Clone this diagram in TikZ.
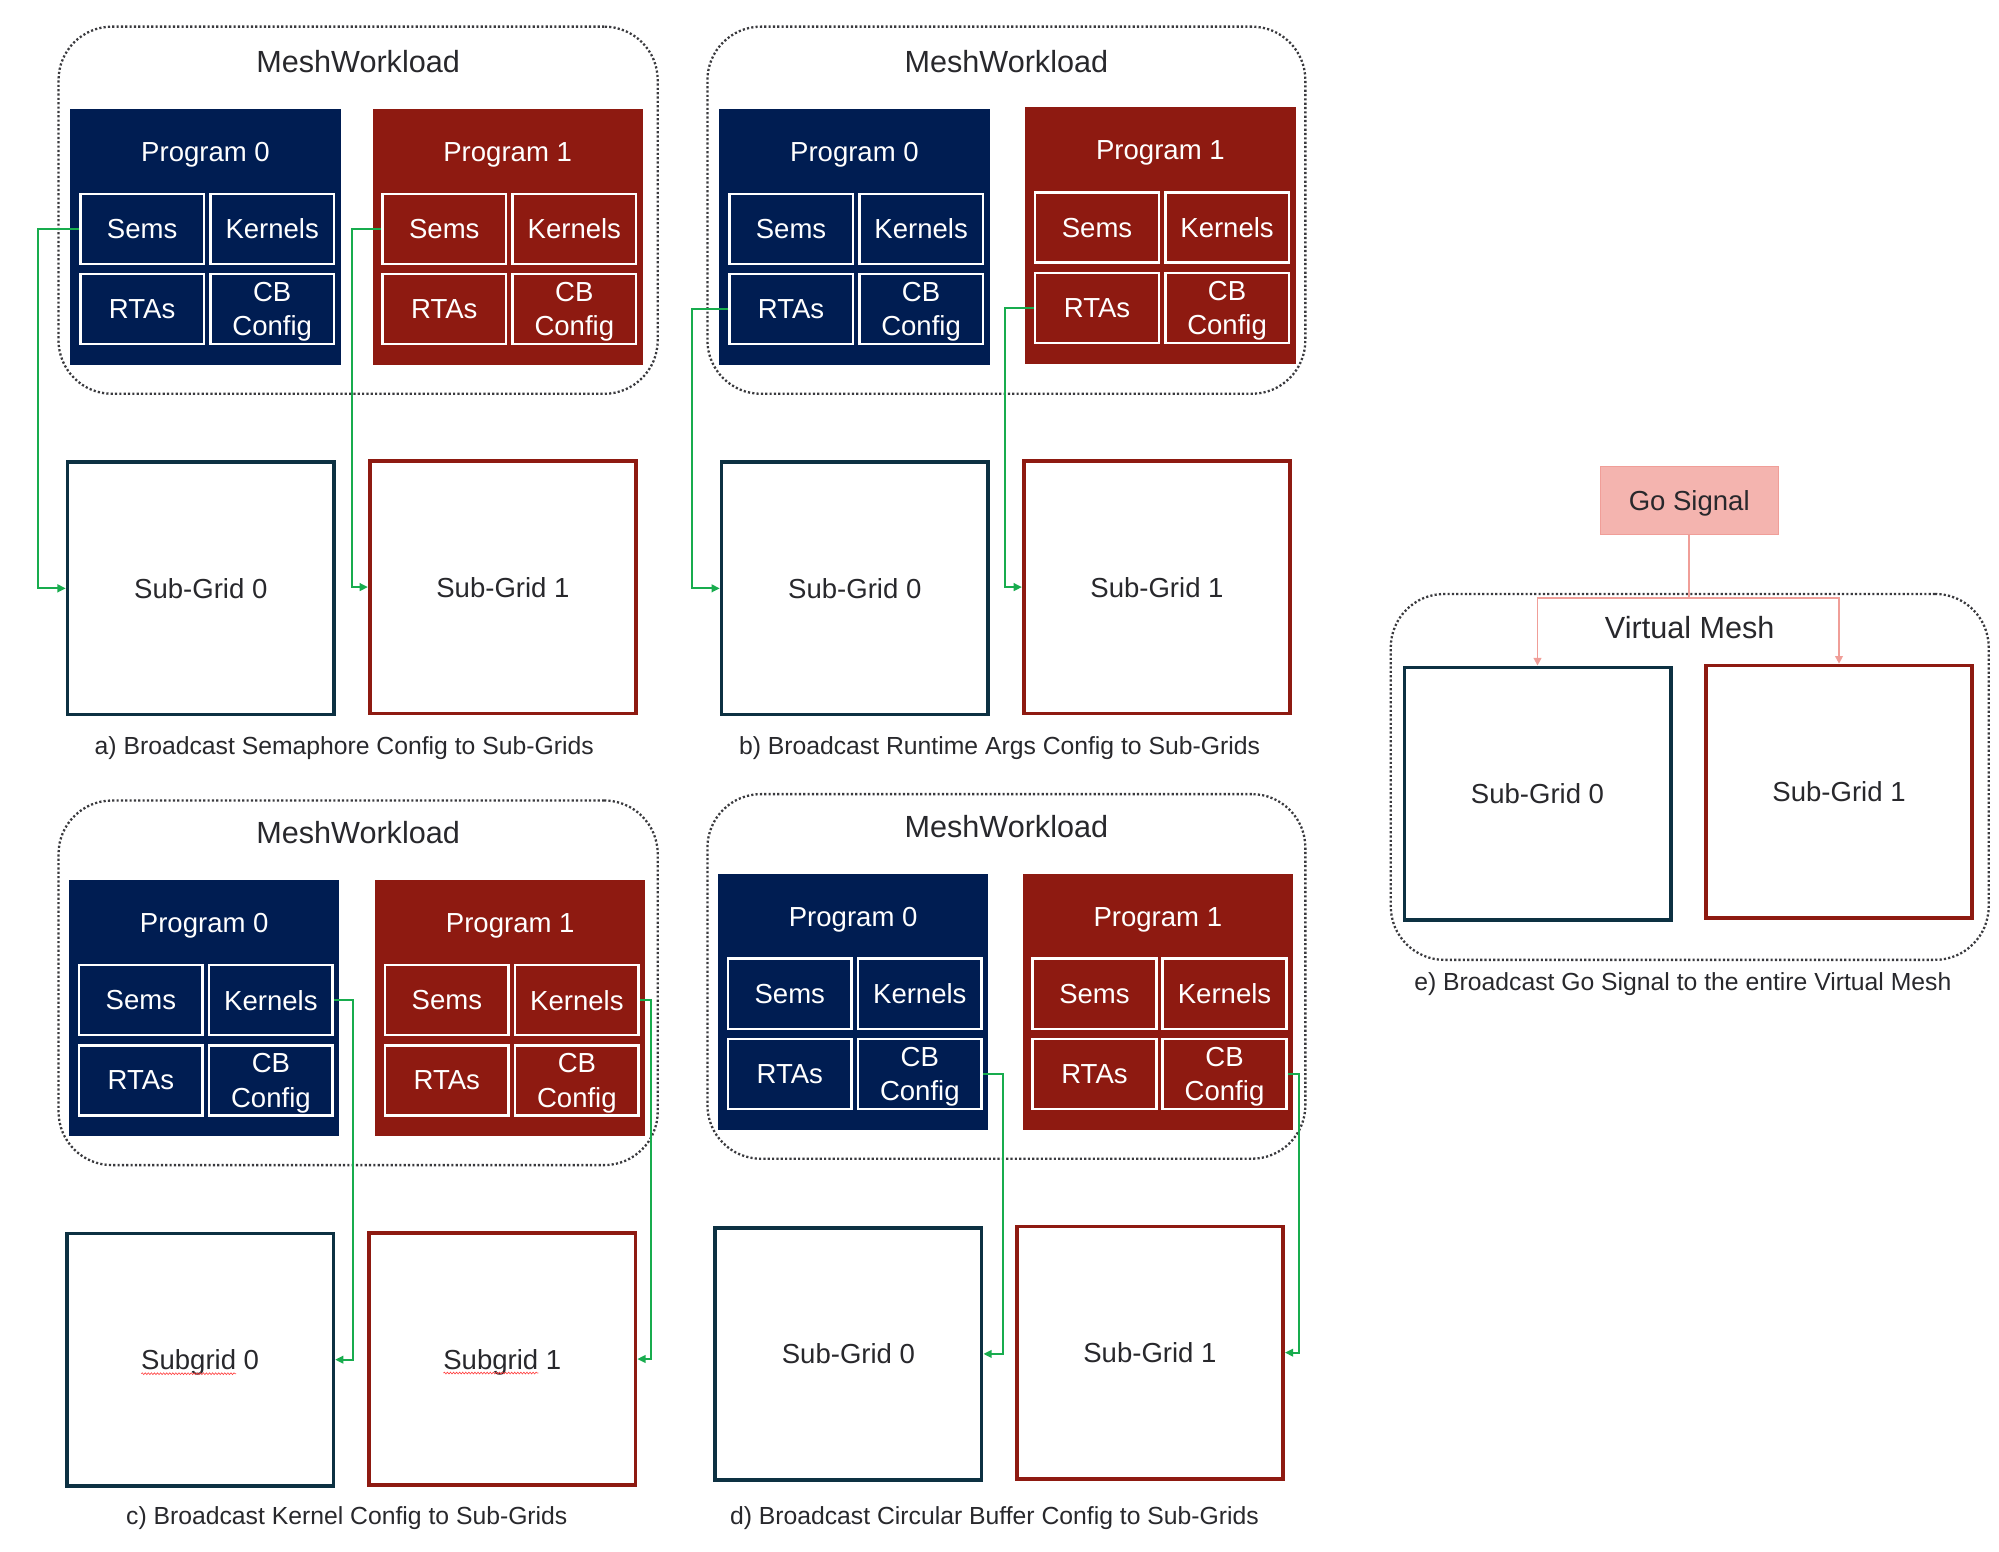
\documentclass[tikz,border=0pt]{standalone}
\usepackage{fontspec}
\setmainfont{Liberation Sans}
\usetikzlibrary{positioning,arrows.meta,calc,decorations.pathmorphing}

\definecolor{progblue}{RGB}{0,29,82}
\definecolor{progred}{RGB}{142,26,17}
\definecolor{gridblue}{RGB}{13,49,66}
\definecolor{feedgreen}{RGB}{24,172,78}
\definecolor{gopink}{RGB}{244,180,175}
\definecolor{golinepink}{RGB}{240,158,152}
\definecolor{txtgray}{RGB}{40,40,44}
\definecolor{dotgray}{RGB}{58,58,62}

\newcommand{\wltitlefont}{\fontsize{24}{28}\selectfont}
\newcommand{\wlboxfont}{\fontsize{21.6}{27}\selectfont}
\newcommand{\wlcapfont}{\fontsize{19.4}{23}\selectfont}

\tikzset{
  meshbox/.style={draw=dotgray,line width=1.8pt,dash pattern=on 1.7pt off 1.7pt,rounded corners=42pt,inner sep=0pt,anchor=north west},
  meshtitle/.style={text=txtgray,font=\wltitlefont,text depth=0pt},
  prog/.style={minimum width=212pt,minimum height=201pt,inner sep=0pt,anchor=north west},
  progtitle/.style={text=white,font=\wlboxfont,text depth=0pt},
  cell/.style={draw=white,line width=2pt,minimum width=97pt,minimum height=55pt,inner sep=0pt,text=white,align=center,font=\wlboxfont,text depth=0pt},
  subgrid/.style={draw,line width=2.8pt,minimum width=209pt,minimum height=198pt,inner sep=0pt,text=txtgray,font=\wlboxfont,text depth=0pt},
  captext/.style={text=txtgray,font=\wlcapfont,text depth=0pt},
  feed/.style={draw=feedgreen,line width=1.6pt,-{Triangle[length=6.5pt,width=6pt]}},
  gosig/.style={fill=gopink,draw=golinepink,line width=0.6pt,minimum width=140pt,minimum height=53pt,text=txtgray,font=\wlboxfont,text depth=0pt},
  signal/.style={draw=golinepink,line width=1.4pt,-{Triangle[length=6pt,width=6pt]}},
  squig/.style={draw=red!75,line width=0.5pt,decorate,decoration={snake,amplitude=0.7pt,segment length=2.4pt}}
}

\newcommand{\progblock}[5]{%
  \node[prog,fill=#4] (#1) at (#2,#3) {};
  \node[progtitle] at ($(#1.north)+(0,34)$) {#5};
  \node[cell,fill=#4] (#1-sems) at ($(#1.north west)+(56.5,94.5)$) {Sems};
  \node[cell,fill=#4] (#1-kern) at ($(#1.north west)+(158.5,94.5)$) {Kernels};
  \node[cell,fill=#4] (#1-rtas) at ($(#1.north west)+(56.5,157.5)$) {RTAs};
  \node[cell,fill=#4] (#1-cb) at ($(#1.north west)+(158.5,157.5)$) {CB\\Config};
}

\begin{document}
\begin{tikzpicture}[x=1pt,y=-1pt]
    \useasboundingbox (0,0) rectangle (1568,1217);

    \node[meshbox,minimum width=470pt,minimum height=288pt] (amesh) at (45,20) {};
    \node[meshtitle] at ($(amesh.north)+(0,28)$) {MeshWorkload};
    \progblock{a0}{55}{85}{progblue}{Program 0}
    \progblock{a1}{292}{85}{progred}{Program 1}
    \node[subgrid,draw=gridblue] (asg0) at (157.5,461.5) {Sub-Grid 0};
    \node[subgrid,draw=progred] (asg1) at (394.5,460.5) {Sub-Grid 1};
    \node[captext] at (270,585) {a) Broadcast Semaphore Config to Sub-Grids};
    \draw[feed] (a0-sems.west) -- ++(-32,0) |- (asg0.west);
    \draw[feed] (a1-sems.west) -- ++(-23,0) |- (asg1.west);

    \node[meshbox,minimum width=469pt,minimum height=288pt] (bmesh) at (554,20) {};
    \node[meshtitle] at ($(bmesh.north)+(0,28)$) {MeshWorkload};
    \progblock{b0}{564}{85}{progblue}{Program 0}
    \progblock{b1}{804}{84}{progred}{Program 1}
    \node[subgrid,draw=gridblue] (bsg0) at (670.5,461.5) {Sub-Grid 0};
    \node[subgrid,draw=progred] (bsg1) at (907.5,460.5) {Sub-Grid 1};
    \node[captext] at (784,585) {b) Broadcast Runtime Args Config to Sub-Grids};
    \draw[feed] (b0-rtas.west) -- ++(-28,0) |- (bsg0.west);
    \draw[feed] (b1-rtas.west) -- ++(-23,0) |- (bsg1.west);

    \node[meshbox,minimum width=470pt,minimum height=286pt] (cmesh) at (45,627) {};
    \node[meshtitle] at ($(cmesh.north)+(0,26)$) {MeshWorkload};
    \progblock{c0}{54}{690}{progblue}{Program 0}
    \progblock{c1}{294}{690}{progred}{Program 1}
    \node[subgrid,draw=gridblue] (csg0) at (157,1066.5) {Subgrid 0};
    \node[subgrid,draw=progred] (csg1) at (394,1066) {Subgrid 1};
    \draw[squig] ($(csg0.center)+(-46.2,11)$) -- ++(74.4,0);
    \draw[squig] ($(csg1.center)+(-46.2,11)$) -- ++(74.4,0);
    \node[captext] at (272,1189) {c) Broadcast Kernel Config to Sub-Grids};
    \draw[feed] (c0-kern.east) -- ++(15,0) |- (csg0.east);
    \draw[feed] (c1-kern.east) -- ++(9,0) |- (csg1.east);

    \node[meshbox,minimum width=469pt,minimum height=286pt] (dmesh) at (554,622) {};
    \node[meshtitle] at ($(dmesh.north)+(0,26)$) {MeshWorkload};
    \progblock{d0}{563}{685}{progblue}{Program 0}
    \progblock{d1}{802}{685}{progred}{Program 1}
    \node[subgrid,draw=gridblue] (dsg0) at (665.5,1062) {Sub-Grid 0};
    \node[subgrid,draw=progred] (dsg1) at (902,1061) {Sub-Grid 1};
    \node[captext] at (780,1189) {d) Broadcast Circular Buffer Config to Sub-Grids};
    \draw[feed] (d0-cb.east) -- ++(16,0) |- (dsg0.east);
    \draw[feed] (d1-cb.east) -- ++(9,0) |- (dsg1.east);

    \node[meshbox,minimum width=469pt,minimum height=287pt] (emesh) at (1090,465) {};
    \node[meshtitle] at ($(emesh.north)+(0,27)$) {Virtual Mesh};
    \node[gosig] (go) at (1325,392.5) {Go Signal};
    \node[subgrid,draw=gridblue] (esg0) at (1206,622.5) {Sub-Grid 0};
    \node[subgrid,draw=progred] (esg1) at (1442.5,621) {Sub-Grid 1};
    \node[captext] at (1320,770) {e) Broadcast Go Signal to the entire Virtual Mesh};
    \draw[signal] (go.south) -- ++(0,50) -| (esg0.north);
    \draw[signal] (go.south) -- ++(0,50) -| (esg1.north);
\end{tikzpicture}
\end{document}
